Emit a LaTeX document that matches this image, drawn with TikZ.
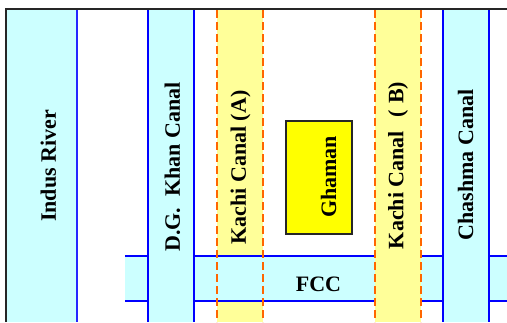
\documentclass[tikz,border=0pt]{standalone}
\usepackage{fontspec}
\setmainfont{Liberation Serif}
\usetikzlibrary{positioning}
\definecolor{canalcyan}{RGB}{204,255,255}
\definecolor{kachiyellow}{RGB}{255,255,153}
\definecolor{ghamanyellow}{RGB}{255,255,0}
\definecolor{bankblue}{RGB}{0,0,255}
\definecolor{dashorange}{RGB}{255,102,0}
\tikzset{
  canal/.style={fill=canalcyan,inner sep=0pt,outer sep=0pt},
  kachi/.style={fill=kachiyellow,inner sep=0pt,outer sep=0pt},
  bank/.style={draw=bankblue,line width=1.4pt},
  thinbank/.style={draw=bankblue!85,line width=1.1pt},
  dashbank/.style={draw=dashorange,line width=1.3pt,dash pattern=on 8pt off 4pt},
  lbl/.style={font=\fontsize{22}{24}\selectfont\bfseries,inner sep=0pt},
  vlbl/.style={lbl,rotate=90},
  frame/.style={draw=black!85,line width=2pt}
}
\begin{document}
\begin{tikzpicture}[x=1pt,y=-1pt]
  \useasboundingbox (0,0) rectangle (507,322);
  % Indus River
  \node[canal,minimum width=70pt,minimum height=312pt] (indus) at (42,166) {};
  \draw[thinbank] (indus.north east) -- (indus.south east);

  % Kachi Canal (A), fill first, FCC crosses it
  \node[kachi,minimum width=46pt,minimum height=312pt] (kachiA) at (240,166) {};

  % FCC
  \node[canal,minimum width=382pt,minimum height=45pt] (fcc) at (316,278.5) {};
  \draw[bank] (fcc.north west) -- (fcc.north east);
  \draw[bank] (fcc.south west) -- (fcc.south east);
  \draw[dashbank] (kachiA.north west) -- (kachiA.south west);
  \draw[dashbank] (kachiA.north east) -- (kachiA.south east);

  % D.G. Khan Canal
  \node[canal,minimum width=46pt,minimum height=312pt] (dgk) at (171,166) {};
  \draw[bank] (dgk.north west) -- (dgk.south west);
  \draw[bank] (dgk.north east) -- (dgk.south east);

  % Kachi Canal (B)
  \node[kachi,minimum width=46pt,minimum height=312pt] (kachiB) at (398,166) {};
  \draw[dashbank] (kachiB.north west) -- (kachiB.south west);
  \draw[dashbank] (kachiB.north east) -- (kachiB.south east);

  % Chashma Canal
  \node[canal,minimum width=46pt,minimum height=312pt] (chashma) at (466,166) {};
  \draw[bank] (chashma.north west) -- (chashma.south west);
  \draw[bank] (chashma.north east) -- (chashma.south east);

  % Ghaman
  \node[draw=black!85,line width=1.2pt,fill=ghamanyellow,minimum width=66pt,minimum height=113pt,inner sep=0pt] (ghaman) at (319,177.5) {};

  % labels
  \node[vlbl] (indusL) at (48.5,166) {Indus River};
  \node[vlbl] (dgkL) at (172.5,167) {D.G.\ \ Khan Canal};
  \node[vlbl] (kachiAL) at (240.5,167.5) {Kachi Canal (A)};
  \node[vlbl] (ghamanL) at (328.5,177) {Ghaman};
  \node[vlbl] (kachiBL) at (398,165.5) {Kachi Canal\hspace{0.6em}(\hspace{0.3em}B)};
  \node[vlbl] (chashmaL) at (465.5,165) {Chashma Canal};
  \node[lbl] (fccL) at (318.5,284.5) {FCC};

  % frame
  \draw[frame] (6,322) -- (6,9) -- (507,9);
\end{tikzpicture}
\end{document}
